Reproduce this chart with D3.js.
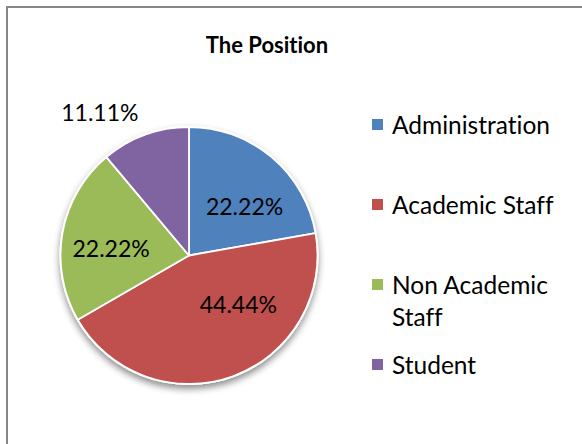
<!DOCTYPE html>
<html>
<head>
<meta charset="utf-8">
<script src="https://cdn.jsdelivr.net/npm/d3@7"></script>
<style>
	body { margin:0; background:#fff; }
	text { font-family: Lato, "Open Sans", sans-serif; fill:#000; font-variant-ligatures:none; }
</style>
</head>
<body>
<svg id="chart" width="582" height="444"></svg>
<script>
var categories = ['Administration','Academic Staff','Non Academic Staff','Student']
var values     = [22.22, 44.44, 22.22, 11.11]
var labels     = ['22.22%','44.44%','22.22%','11.11%']
var colors     = ['#4F81BD','#C0504D','#9BBB59','#8064A2']
var legendLines = [['Administration'],['Academic Staff'],['Non Academic','Staff'],['Student']]

var svg = d3.select('#chart')

// chart frame, right and bottom edges run off the picture
svg.append('rect').attr('x',7).attr('y',7).attr('width',620).attr('height',480)
	.attr('fill','#fff').attr('stroke','#878787').attr('stroke-width',2)

svg.append('text').text('The Position')
	.attr('x',267).attr('y',53)
	.attr('text-anchor','middle')
	.style('font-weight','bold').style('font-size','22px')

var defs = svg.append('defs')
var shadow = defs.append('filter').attr('id','shadow')
	.attr('x','-20%').attr('y','-20%').attr('width','140%').attr('height','140%')
shadow.append('feDropShadow').attr('dx',0).attr('dy',4).attr('stdDeviation',3.5)
	.attr('flood-color','#000').attr('flood-opacity',0.45)

var cx = 189, cy = 255.5, r = 128.5
var pie = d3.pie().sort(null).value(function(d){ return d })
var arcs = pie(values)
var arc = d3.arc().innerRadius(0).outerRadius(r)

var g = svg.append('g').attr('transform','translate('+cx+','+cy+')')

g.append('circle').attr('r',r+1).attr('fill','#fff').attr('filter','url(#shadow)')

g.selectAll('path.slice').data(arcs).enter().append('path')
	.attr('class','slice')
	.attr('d',arc)
	.attr('fill',function(d,i){ return colors[i] })
	.attr('stroke','#fff').attr('stroke-width',1.8).attr('stroke-linejoin','round')

// excel "best fit" placement: centroid on a label ring, then a small shift
var labelRing = [0.6,0.6,0.6,1.3]
var labelShift = [[6,10],[23,-23],[-2,7],[-32,14]]
arcs.forEach(function(d,i){
	var la = d3.arc().innerRadius(r*labelRing[i]).outerRadius(r*labelRing[i])
	var c = la.centroid(d)
	g.append('text').text(labels[i])
		.attr('x',c[0]+labelShift[i][0])
		.attr('y',c[1]+labelShift[i][1])
		.attr('dy','0.36em')
		.attr('text-anchor','middle')
		.style('font-size','23px')
})

// legend
var legend = svg.append('g').attr('id','legend')
var rowY = [134,214,294,374]
categories.forEach(function(e,i){
	var row = legend.append('g')
	row.append('rect').attr('x',372).attr('y',rowY[i]-15).attr('width',11).attr('height',11)
		.attr('fill',colors[i])
	legendLines[i].forEach(function(t,j){
		row.append('text').text(t)
			.attr('x',392).attr('y',rowY[i] + j*32)
			.style('font-size','24.5px')
	})
})
</script>
</body>
</html>
